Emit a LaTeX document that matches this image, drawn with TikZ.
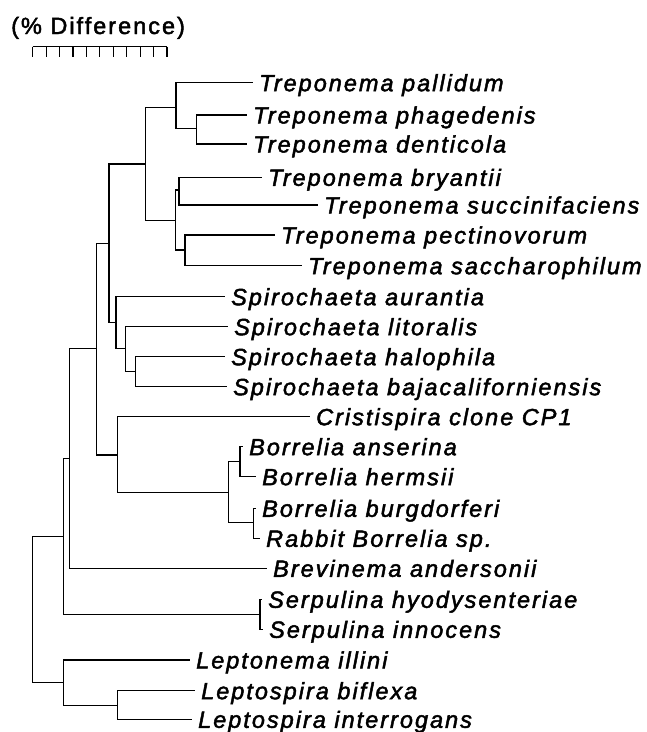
\documentclass[tikz,border=0pt]{standalone}
\usepackage{fontspec}
\usetikzlibrary{calc}
\setmainfont{Liberation Sans}
\newfontfamily\lblfont[LetterSpace=8.5,FakeBold=2]{Liberation Sans}
\begin{document}
\begin{tikzpicture}[x=1pt,y=-1pt,
  br/.style={line width=1.2pt},
  leaf/.style={anchor=west,inner xsep=6pt,inner ysep=0pt,text height=17pt,text depth=0pt,
    font=\lblfont\itshape\fontsize{23.5}{28}\selectfont},
  hdr/.style={anchor=base west,inner sep=0pt,font=\lblfont\fontsize{23.5}{28}\selectfont}]
\useasboundingbox (0,0) rectangle (647,732);
% heading and scale
\node[hdr] (title) at (11,34) {(\% Difference)};
\coordinate (s0) at (32.7,46.7);
\coordinate (s1) at (167,46.7);
\draw[br] (s0) -- (s1);
\foreach \i in {0,...,10}{\draw[br] ($(s0)!\i/10!(s1)$) -- ++(0,10);}
% internal nodes
\coordinate (R) at (32.3,609.5);
\coordinate (A) at (63.3,536.7);
\coordinate (B) at (69.3,458.3);
\coordinate (C) at (96.7,348.3);
\coordinate (D) at (109,243.3);
\coordinate (E) at (145.7,164);
\coordinate (F) at (176,107.3);
\coordinate (G) at (196.7,128.3);
\coordinate (H) at (175.7,220.7);
\coordinate (I) at (179,190);
\coordinate (J) at (185,250);
\coordinate (K) at (116,322.7);
\coordinate (L) at (125.3,348.3);
\coordinate (M) at (135.7,371.7);
\coordinate (N) at (117.3,455);
\coordinate (O) at (228.7,492.7);
\coordinate (P) at (240,461.7);
\coordinate (Q) at (253.3,522.7);
\coordinate (S) at (260,614.3);
\coordinate (T) at (63.3,682.3);
\coordinate (U) at (117.3,705.7);
% leaves
\node[leaf] (l1) at (253,82.7) {Treponema pallidum};
\node[leaf] (l2) at (247,115) {Treponema phagedenis};
\node[leaf] (l3) at (247,144) {Treponema denticola};
\node[leaf] (l4) at (262,177.3) {Treponema bryantii};
\node[leaf] (l5) at (318,205) {Treponema succinifaciens};
\node[leaf] (l6) at (275,235) {Treponema pectinovorum};
\node[leaf] (l7) at (302,265.7) {Treponema saccharophilum};
\node[leaf] (l8) at (225,296.7) {Spirochaeta aurantia};
\node[leaf] (l9) at (228,326.7) {Spirochaeta litoralis};
\node[leaf] (l10) at (225,356.7) {Spirochaeta halophila};
\node[leaf] (l11) at (227,386.7) {Spirochaeta bajacaliforniensis};
\node[leaf] (l12) at (310,416.7) {Cristispira clone CP1};
\node[leaf] (l13) at (243,446.7) {Borrelia anserina};
\node[leaf] (l14) at (256,476.7) {Borrelia hermsii};
\node[leaf] (l15) at (256,508.3) {Borrelia burgdorferi};
\node[leaf] (l16) at (260,538.3) {Rabbit Borrelia sp.};
\node[leaf] (l17) at (267,568.3) {Brevinema andersonii};
\node[leaf] (l18) at (262,599.3) {Serpulina hyodysenteriae};
\node[leaf] (l19) at (263,629.3) {Serpulina innocens};
\node[leaf] (l20) at (190,660) {Leptonema illini};
\node[leaf] (l21) at (195,690.7) {Leptospira biflexa};
\node[leaf] (l22) at (192,719.3) {Leptospira interrogans};
% branches
\draw[br] (R) |- (A); \draw[br] (R) |- (T);
\draw[br] (A) |- (B); \draw[br] (A) |- (S);
\draw[br] (B) |- (C); \draw[br] (B) |- (l17.west);
\draw[br] (C) |- (D); \draw[br] (C) |- (N);
\draw[br] (D) |- (E); \draw[br] (D) |- (K);
\draw[br] (E) |- (F); \draw[br] (E) |- (H);
\draw[br] (F) |- (l1.west); \draw[br] (F) |- (G);
\draw[br] (G) |- (l2.west); \draw[br] (G) |- (l3.west);
\draw[br] (H) |- (I); \draw[br] (H) |- (J);
\draw[br] (I) |- (l4.west); \draw[br] (I) |- (l5.west);
\draw[br] (J) |- (l6.west); \draw[br] (J) |- (l7.west);
\draw[br] (K) |- (l8.west); \draw[br] (K) |- (L);
\draw[br] (L) |- (l9.west); \draw[br] (L) |- (M);
\draw[br] (M) |- (l10.west); \draw[br] (M) |- (l11.west);
\draw[br] (N) |- (l12.west); \draw[br] (N) |- (O);
\draw[br] (O) |- (P); \draw[br] (O) |- (Q);
\draw[br] (P) |- (l13.west); \draw[br] (P) |- (l14.west);
\draw[br] (Q) |- (l15.west); \draw[br] (Q) |- (l16.west);
\draw[br] (S) |- (l18.west); \draw[br] (S) |- (l19.west);
\draw[br] (T) |- (l20.west); \draw[br] (T) |- (U);
\draw[br] (U) |- (l21.west); \draw[br] (U) |- (l22.west);
\end{tikzpicture}
\end{document}
